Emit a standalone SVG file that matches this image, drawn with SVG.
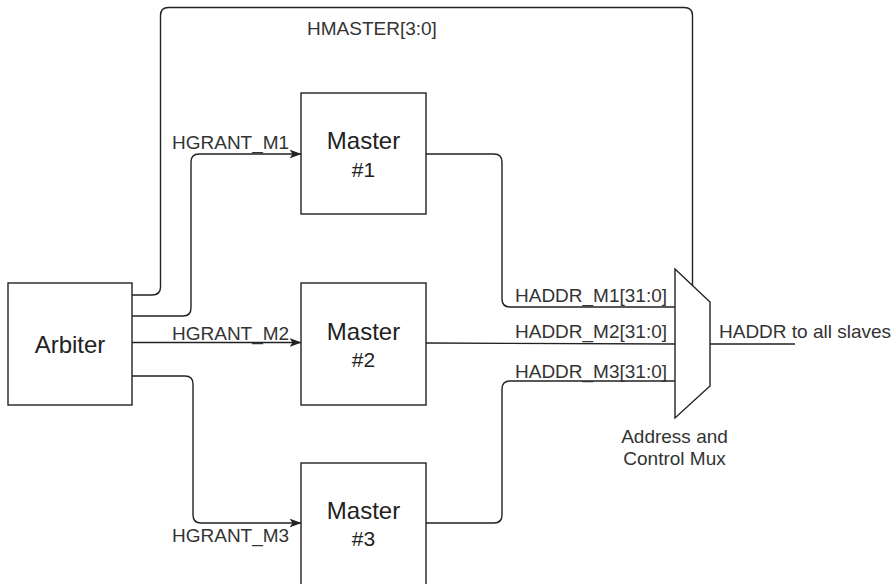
<svg xmlns="http://www.w3.org/2000/svg" width="895" height="584" viewBox="0 0 895 584">
<defs>
<style>
.box{fill:#fff;stroke:#222;stroke-width:1.4}
.wire{fill:none;stroke:#222;stroke-width:1.4}
.lbl{font-family:"Liberation Sans",Arial,sans-serif;font-size:19px;fill:#333}
.big{font-family:"Liberation Sans",Arial,sans-serif;font-size:24px;fill:#222;text-anchor:middle}
.num{font-family:"Liberation Sans",Arial,sans-serif;font-size:21px;fill:#222;text-anchor:middle}
</style>
<marker id="arr" viewBox="0 0 12 10" refX="11.5" refY="5" markerWidth="12" markerHeight="10" markerUnits="userSpaceOnUse" orient="auto">
<path d="M0,0.5 L12,5 L0,9.5 L3,5 Z" fill="#222"/>
</marker>
</defs>
<rect width="895" height="584" fill="#fff"/>
<g id="connectors">
<path class="wire" d="M132,295 H152 Q160.5,295 160.5,287 V15.5 Q160.5,7.5 168.5,7.5 H684 Q692.5,7.5 692.5,15.5 V285"/>
<path class="wire" d="M132,316 H183 Q191,316 191,308 V162 Q191,154 199,154 H301" marker-end="url(#arr)"/>
<path class="wire" d="M132,342.5 H301" marker-end="url(#arr)"/>
<path class="wire" d="M132,376 H185 Q193,376 193,384 V515 Q193,523 201,523 H301" marker-end="url(#arr)"/>
<path class="wire" d="M426,154 H494 Q502,154 502,162 V299 Q502,307 510,307 H675"/>
<path class="wire" d="M426,343 L675,344"/>
<path class="wire" d="M426,523 H494 Q502,523 502,515 V389 Q502,381 510,381 H675"/>
<path class="wire" d="M710,344 H795"/>
<text class="lbl" x="307" y="35">HMASTER[3:0]</text>
<text class="lbl" x="172" y="149">HGRANT_M1</text>
<text class="lbl" x="172" y="340">HGRANT_M2</text>
<text class="lbl" x="172" y="542">HGRANT_M3</text>
<text class="lbl" x="515" y="302">HADDR_M1[31:0]</text>
<text class="lbl" x="515" y="338">HADDR_M2[31:0]</text>
<text class="lbl" x="515" y="378">HADDR_M3[31:0]</text>
<text class="lbl" x="719" y="338">HADDR to all slaves</text>
</g>
<g id="arbiter">
<rect class="box" x="8" y="283" width="124" height="122"/>
<text class="big" x="70" y="353">Arbiter</text>
</g>
<g id="master1">
<rect class="box" x="301" y="93" width="125" height="121"/>
<text class="big" x="363.5" y="149">Master</text>
<text class="num" x="363.5" y="177">#1</text>
</g>
<g id="master2">
<rect class="box" x="301" y="283" width="125" height="122"/>
<text class="big" x="363.5" y="340">Master</text>
<text class="num" x="363.5" y="367">#2</text>
</g>
<g id="master3">
<rect class="box" x="301" y="463" width="125" height="124"/>
<text class="big" x="363.5" y="519">Master</text>
<text class="num" x="363.5" y="546">#3</text>
</g>
<g id="mux">
<path class="box" d="M675,269 L710,302 L710,386 L675,418 Z"/>
<text class="lbl" x="674.5" y="443" text-anchor="middle">Address and</text>
<text class="lbl" x="674.5" y="465" text-anchor="middle">Control Mux</text>
</g>
</svg>
